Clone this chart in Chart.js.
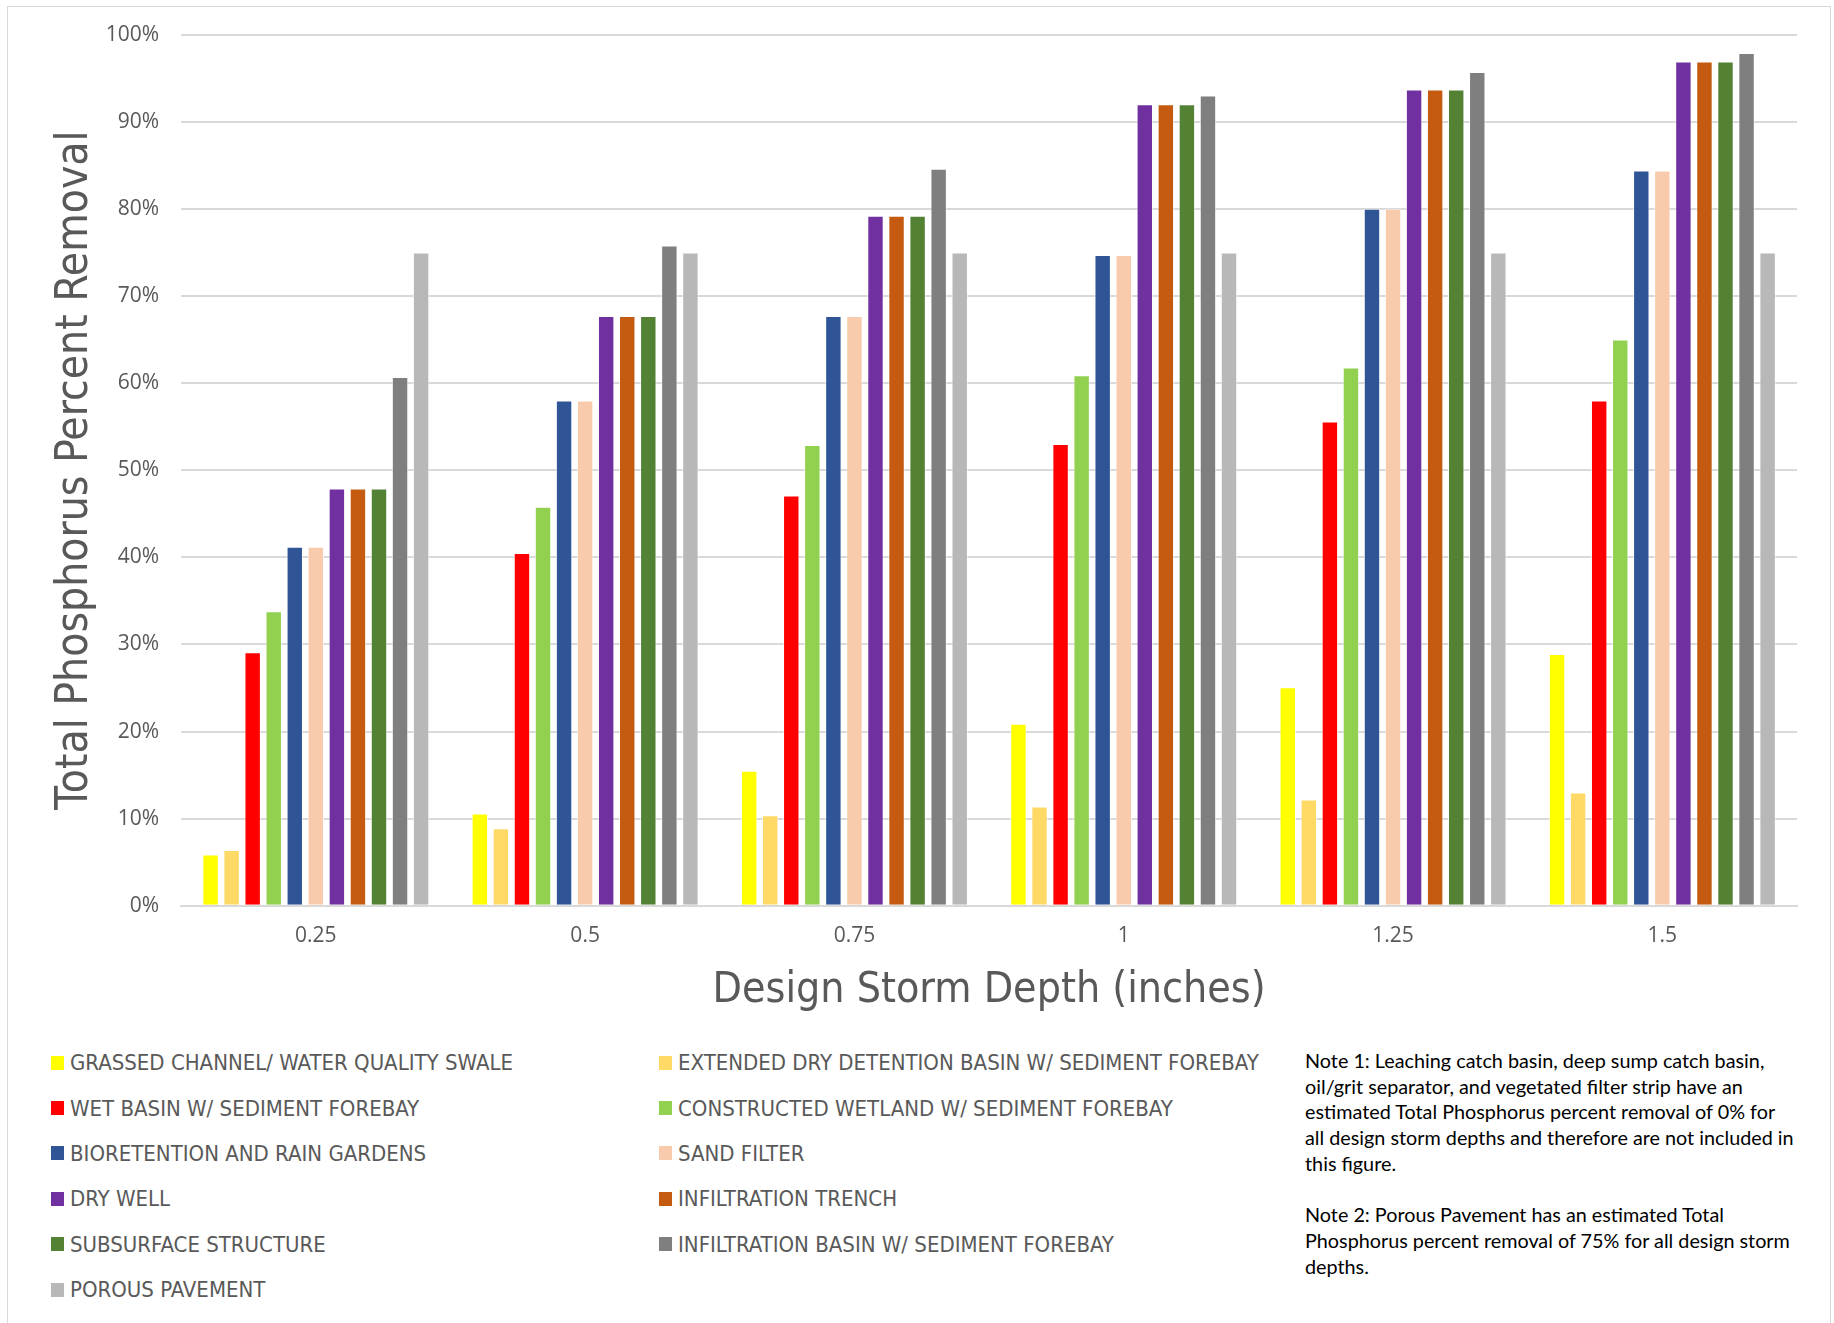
<!DOCTYPE html>
<html>
<head>
<meta charset="utf-8">
<script src="https://cdn.jsdelivr.net/npm/chart.js@4.4.1/dist/chart.umd.min.js"></script>
<style>
  html, body { margin: 0; padding: 0; background: #ffffff; }
  body { width: 1834px; height: 1323px; position: relative; overflow: hidden; }
  #frame { position: absolute; left: 7px; top: 6px; width: 1824px; height: 1340px;
           border: 1.5px solid #d9d9d9; box-sizing: border-box; }
  #wrap { position: absolute; left: 0; top: 0; width: 1834px; height: 1016px; }
  #legend { position: absolute; left: 51px; top: 1040px; width: 1230px;
            display: grid; grid-template-columns: 608px 620px; grid-auto-rows: 45.4px;
            font-family: "Liberation Sans Narrow", "DejaVu Sans Condensed", sans-serif;
            font-size: 22px; color: #595959; }
  .item { display: flex; align-items: center; white-space: nowrap; }
  .swatch { width: 13px; height: 14px; margin-right: 6px; flex: none; }
  #notes { position: absolute; left: 1305px; top: 1048px; font-family: Lato, "Open Sans", sans-serif;
           font-size: 19.8px; line-height: 25.7px; color: #000; white-space: nowrap; }
  #notes p { margin: 0 0 25.7px 0; }
</style>
</head>
<body>
<div id="frame"></div>
<div id="wrap"><canvas id="chart"></canvas></div>
<div id="legend"></div>
<div id="notes">
  <p>Note 1: Leaching catch basin, deep sump catch basin,<br>oil/grit separator, and vegetated filter strip have an<br>estimated Total Phosphorus percent removal of 0% for<br>all design storm depths and therefore are not included in<br>this figure.</p>
  <p>Note 2: Porous Pavement has an estimated Total<br>Phosphorus percent removal of 75% for all design storm<br>depths.</p>
</div>
<script>
// Design storm depths (inches)
const depths = ["0.25", "0.5", "0.75", "1", "1.25", "1.5"];

// Total phosphorus removal (%) per practice, one value per storm depth
const grassedChannel      = [5.9, 10.6, 15.5, 20.9, 25.1, 28.9];
const extendedDryBasin    = [6.4, 8.9, 10.4, 11.4, 12.2, 13.0];
const wetBasin            = [29.1, 40.5, 47.1, 53.0, 55.6, 58.0];
const constructedWetland  = [33.8, 45.8, 52.9, 60.9, 61.8, 65.0];
const bioretention        = [41.2, 58.0, 67.7, 74.7, 80.0, 84.4];
const sandFilter          = [41.2, 58.0, 67.7, 74.7, 80.0, 84.4];
const dryWell             = [47.9, 67.7, 79.2, 92.0, 93.7, 96.9];
const infiltrationTrench  = [47.9, 67.7, 79.2, 92.0, 93.7, 96.9];
const subsurfaceStructure = [47.9, 67.7, 79.2, 92.0, 93.7, 96.9];
const infiltrationBasin   = [60.7, 75.8, 84.6, 93.0, 95.7, 97.9];
const porousPavement      = [75, 75, 75, 75, 75, 75];

// Y axis ticks
const yTickValues = [0, 10, 20, 30, 40, 50, 60, 70, 80, 90, 100];

const seriesNames = [
  "GRASSED CHANNEL/ WATER QUALITY SWALE",
  "EXTENDED DRY DETENTION BASIN W/ SEDIMENT FOREBAY",
  "WET BASIN W/ SEDIMENT FOREBAY",
  "CONSTRUCTED WETLAND W/ SEDIMENT FOREBAY",
  "BIORETENTION AND RAIN GARDENS",
  "SAND FILTER",
  "DRY WELL",
  "INFILTRATION TRENCH",
  "SUBSURFACE STRUCTURE",
  "INFILTRATION BASIN W/ SEDIMENT FOREBAY",
  "POROUS PAVEMENT"
];
const seriesData = [grassedChannel, extendedDryBasin, wetBasin, constructedWetland, bioretention,
  sandFilter, dryWell, infiltrationTrench, subsurfaceStructure, infiltrationBasin, porousPavement];
const seriesColors = ["#FFFF00", "#FFD966", "#FF0000", "#92D050", "#2F5597", "#F8CBAD",
  "#7030A0", "#C55A11", "#548235", "#7F7F7F", "#B8B8B8"];

const labelFont = { family: "'Open Sans', sans-serif", size: 21 };
const titleFamily = "'Liberation Sans Narrow', 'DejaVu Sans Condensed', sans-serif";

const chart = new Chart(document.getElementById("chart"), {
  type: "bar",
  data: {
    labels: depths,
    datasets: seriesNames.map((name, i) => ({
      label: name,
      data: seriesData[i],
      backgroundColor: seriesColors[i],
      borderColor: "rgba(255,255,255,0.6)",
      borderWidth: 1,
      categoryPercentage: 0.86,
      barPercentage: 0.78
    }))
  },
  options: {
    responsive: true,
    maintainAspectRatio: false,
    animation: false,
    layout: { padding: { top: 27, right: 37, left: 49, bottom: 0 } },
    plugins: { legend: { display: false }, tooltip: { enabled: false } },
    scales: {
      x: {
        grid: { display: false },
        border: { display: true, color: "#d9d9d9", width: 2 },
        ticks: { color: "#595959", font: labelFont, padding: 10 },
        title: { display: true, text: "Design Storm Depth (inches)", color: "#595959",
                 font: { family: titleFamily, size: 42.5 }, padding: { top: 6, bottom: 0 } }
      },
      y: {
        min: 0, max: 100,
        afterBuildTicks: (axis) => { axis.ticks = yTickValues.map(v => ({ value: v })); },
        grid: { color: "#d9d9d9", lineWidth: 2, drawTicks: false },
        border: { display: false },
        ticks: { color: "#595959", font: labelFont, padding: 22, callback: (v) => v + "%" },
        title: { display: true, text: "Total Phosphorus Percent Removal", color: "#595959",
                 font: { family: titleFamily, size: 44 }, padding: { top: 0, bottom: -18 } }
      }
    }
  }
});

// Legend in two columns, built from the chart's datasets
const legendEl = document.getElementById("legend");
chart.data.datasets.forEach((ds) => {
  const item = document.createElement("div");
  item.className = "item";
  const sw = document.createElement("span");
  sw.className = "swatch";
  sw.style.background = ds.backgroundColor;
  const tx = document.createElement("span");
  tx.textContent = ds.label;
  item.appendChild(sw);
  item.appendChild(tx);
  legendEl.appendChild(item);
});
</script>
</body>
</html>
